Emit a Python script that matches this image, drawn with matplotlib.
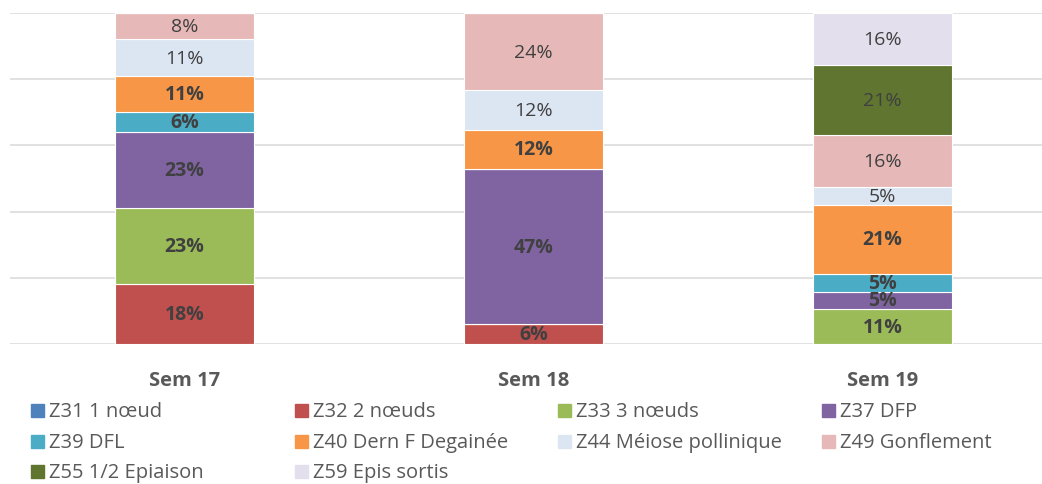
import numpy as np
import matplotlib
matplotlib.use("Agg")
import matplotlib.pyplot as plt
from matplotlib.patches import Rectangle

plt.rcParams['font.family'] = ['Open Sans', 'DejaVu Sans']

categories = ['Sem 17', 'Sem 18', 'Sem 19']
series = ['Z31 1 nœud', 'Z32 2 nœuds', 'Z33 3 nœuds', 'Z37 DFP',
          'Z39 DFL', 'Z40 Dern F Degainée', 'Z44 Méiose pollinique',
          'Z49 Gonflement', 'Z55 1/2 Epiaison', 'Z59 Epis sortis']
colors = ['#4f81bd', '#c0504d', '#9bbb59', '#8064a2', '#4bacc6',
          '#f79646', '#dce6f2', '#e6b9b8', '#5f7530', '#e4dfec']
bold = [True, True, True, True, True, True, False, False, False, False]

# percentages per series, for Sem 17 / Sem 18 / Sem 19
z31 = [0, 0, 0]
z32 = [18, 5.9, 0]
z33 = [23, 0, 10.53]
z37 = [23, 47.1, 5.26]
z39 = [6, 0, 5.26]
z40 = [11, 11.8, 21.05]
z44 = [11, 11.8, 5.26]
z49 = [8, 23.5, 15.79]
z55 = [0, 0, 21.05]
z59 = [0, 0, 15.79]
values = [z31, z32, z33, z37, z39, z40, z44, z49, z55, z59]

fig = plt.figure(figsize=(10.42, 4.85), dpi=100)
ax = fig.add_axes([10 / 1042, 140 / 485, 1032 / 1042, 331 / 485])

x = np.arange(len(categories))
bottom = np.zeros(len(categories))
for name, vals, col, b in zip(series, values, colors, bold):
    vals = np.array(vals, dtype=float)
    ax.bar(x, vals, 0.40, bottom=bottom, color=col, edgecolor='white',
           linewidth=0.8, zorder=3)
    for xi, v, b0 in zip(x, vals, bottom):
        if v > 0:
            ax.text(xi, b0 + v / 2, f'{v:.0f}%', ha='center', va='center',
                    fontsize=14, color='#404040',
                    fontweight='bold' if b else 'normal', zorder=4)
    bottom += vals

ax.set_xlim(-0.5, -0.5 + 1032 / 349)
ax.set_ylim(0, 100)
ax.set_yticks([0, 20, 40, 60, 80, 100])
ax.yaxis.grid(True, color='#d9d9d9', linewidth=1.1, zorder=0)
ax.tick_params(left=False, labelleft=False, bottom=False)
for s in ax.spines.values():
    s.set_visible(False)
ax.set_xticks(x)
ax.set_xticklabels(categories, fontsize=14.5, fontweight='bold', color='#595959')
ax.tick_params(axis='x', pad=15)

# legend laid out in a fixed 4-column grid
col_x = [31, 295, 558, 822]
row_y = [411, 442, 472]
for i, (name, col) in enumerate(zip(series, colors)):
    r, c = divmod(i, 4)
    px, py = col_x[c], row_y[r]
    fig.patches.append(Rectangle((px / 1042, 1 - (py + 6.5) / 485), 13 / 1042, 13 / 485,
                                 transform=fig.transFigure, color=col))
    fig.text((px + 18) / 1042, 1 - (py + 1.5) / 485, name, ha='left', va='center',
             fontsize=14.5, color='#595959')

fig.savefig('out.png', dpi=100)
